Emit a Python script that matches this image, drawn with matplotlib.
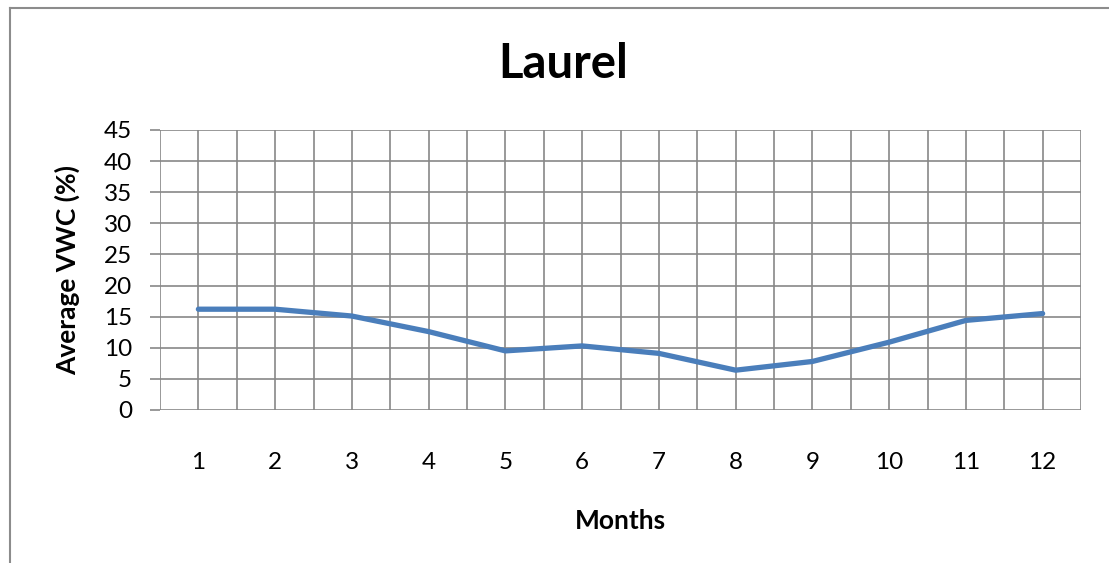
import numpy as np
import matplotlib.pyplot as plt
from matplotlib.lines import Line2D

## Data
months = [1, 2, 3, 4, 5, 6, 7, 8, 9, 10, 11, 12]
avg_vwc = [16.2, 16.2, 15.1, 12.6, 9.5, 10.3, 9.1, 6.4, 7.8, 10.9, 14.4, 15.5]
y_ticks = [0, 5, 10, 15, 20, 25, 30, 35, 40, 45]

plt.rcParams['font.family'] = ['Lato', 'DejaVu Sans']

W, H = 1109, 563
fig = plt.figure(figsize=(W / 100, H / 100), dpi=100)
ax = fig.add_axes([160 / W, 1 - 410 / H, (1081 - 160) / W, (410 - 130) / H])

grid_c = '#878787'

## Gridlines every half category, like Excel's major+minor
ax.set_xlim(0.5, 12.5)
ax.set_ylim(0, 45)
for xv in np.arange(0.5, 12.51, 0.5):
    ax.axvline(xv, color=grid_c, lw=1.2, zorder=1)
for yv in y_ticks:
    ax.axhline(yv, color=grid_c, lw=1.2, zorder=1)

ax.plot(months, avg_vwc, color='#4A7EBB', lw=3.8, solid_capstyle='round',
        solid_joinstyle='round', zorder=3)

for s in ax.spines.values():
    s.set_visible(False)

ax.set_yticks(y_ticks)
ax.set_yticklabels([str(v) for v in y_ticks], fontsize=17.5)
ax.tick_params(axis='y', length=7, width=1.2, color=grid_c, pad=13)
ax.set_xticks(months)
ax.set_xticklabels([str(m) for m in months], fontsize=17.5)
ax.tick_params(axis='x', length=0, pad=30)

ax.set_ylabel('Average VWC (%)', fontsize=19, fontweight='bold', labelpad=17)
ax.set_xlabel('Months', fontsize=19, fontweight='bold', labelpad=26)
fig.text(563 / W, 1 - 64 / H, 'Laurel', fontsize=34, fontweight='bold',
         ha='center', va='center')

## Chart border (top and left visible)
fig.add_artist(Line2D([10 / W, 10 / W], [0, 1 - 8 / H], transform=fig.transFigure,
                      color='#8c8c8c', lw=1.5))
fig.add_artist(Line2D([10 / W, 1], [1 - 8 / H, 1 - 8 / H], transform=fig.transFigure,
                      color='#8c8c8c', lw=1.5))

fig.savefig('out.png', dpi=100)
